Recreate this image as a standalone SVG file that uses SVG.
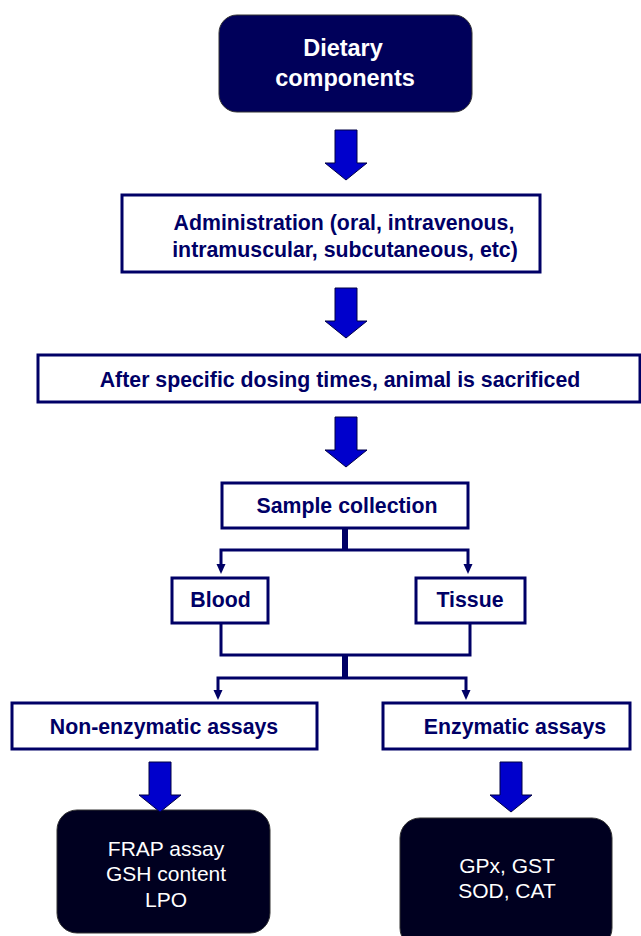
<svg xmlns="http://www.w3.org/2000/svg" width="641" height="936" viewBox="0 0 641 936">
<style>
.bx{fill:#fff;stroke:#000066;stroke-width:3}
.t{font-family:"Liberation Sans",Arial,sans-serif;font-weight:bold;font-size:21.3px;fill:#000066;text-anchor:middle}
.w{font-family:"Liberation Sans",Arial,sans-serif;font-size:21px;fill:#fff;text-anchor:middle}
.wb{font-family:"Liberation Sans",Arial,sans-serif;font-weight:bold;font-size:23.5px;fill:#fff;text-anchor:middle}
.bar{fill:#0000CC;stroke:#000044;stroke-width:1}
.ln{fill:none;stroke:#000066;stroke-width:3}
.thick{fill:none;stroke:#000066;stroke-width:6}
.ah{fill:#000066}
</style>
<defs>
<path id="bigarrow" d="M-11,0 H11 V33 H21 L0,50 L-21,33 H-11 Z"/>
<path id="smallhead" d="M-4.5,0 H4.5 L0,10 Z"/>
</defs>
<g id="dietary">
<rect x="219" y="15" width="253" height="97" rx="18" fill="#00005A" stroke="#333" stroke-width="1"/>
<text class="wb" x="343" y="56">Dietary</text>
<text class="wb" x="345" y="86">components</text>
</g>
<g id="administration">
<rect class="bx" x="122" y="195" width="418" height="77"/>
<text class="t" x="344" y="230">Administration (oral, intravenous,</text>
<text class="t" x="345" y="257">intramuscular, subcutaneous, etc)</text>
</g>
<g id="sacrifice">
<rect class="bx" x="38" y="355" width="602" height="47"/>
<text class="t" x="340" y="387">After specific dosing times, animal is sacrificed</text>
</g>
<g id="sample">
<rect class="bx" x="222" y="483" width="246" height="45"/>
<text class="t" x="347" y="513">Sample collection</text>
</g>
<g id="blood">
<rect class="bx" x="172" y="578" width="96" height="45"/>
<text class="t" x="220.5" y="607">Blood</text>
</g>
<g id="tissue">
<rect class="bx" x="416" y="578" width="109" height="45"/>
<text class="t" x="470" y="607">Tissue</text>
</g>
<g id="nonenzymatic">
<rect class="bx" x="12" y="703" width="305" height="46"/>
<text class="t" x="164" y="734">Non-enzymatic assays</text>
</g>
<g id="enzymatic">
<rect class="bx" x="383" y="703" width="247" height="46"/>
<text class="t" x="515" y="734">Enzymatic assays</text>
</g>
<g id="nonenz-list">
<rect x="57" y="810" width="213" height="123" rx="20" fill="#000020" stroke="#333" stroke-width="1"/>
<text class="w" x="166" y="856">FRAP assay</text>
<text class="w" x="166" y="881">GSH content</text>
<text class="w" x="166" y="907">LPO</text>
</g>
<g id="enz-list">
<rect x="400" y="818" width="212" height="130" rx="20" fill="#000020" stroke="#333" stroke-width="1"/>
<text class="w" x="507" y="873">GPx, GST</text>
<text class="w" x="507" y="898">SOD, CAT</text>
</g>
<g id="connectors">
<use href="#bigarrow" class="bar" x="346" y="130"/>
<use href="#bigarrow" class="bar" x="346" y="288"/>
<use href="#bigarrow" class="bar" x="346" y="417"/>
<use href="#bigarrow" class="bar" x="160" y="762"/>
<use href="#bigarrow" class="bar" x="511" y="762"/>
<path class="thick" d="M345,528 V550"/>
<path class="ln" d="M221,566 V550 H468 V566"/>
<use href="#smallhead" class="ah" x="221" y="564"/>
<use href="#smallhead" class="ah" x="468" y="564"/>
<path class="ln" d="M221,623 V655 H470 V623"/>
<path class="thick" d="M345,655 V678"/>
<path class="ln" d="M218,692 V678 H466 V692"/>
<use href="#smallhead" class="ah" x="218" y="690"/>
<use href="#smallhead" class="ah" x="466" y="690"/>
</g>
</svg>
